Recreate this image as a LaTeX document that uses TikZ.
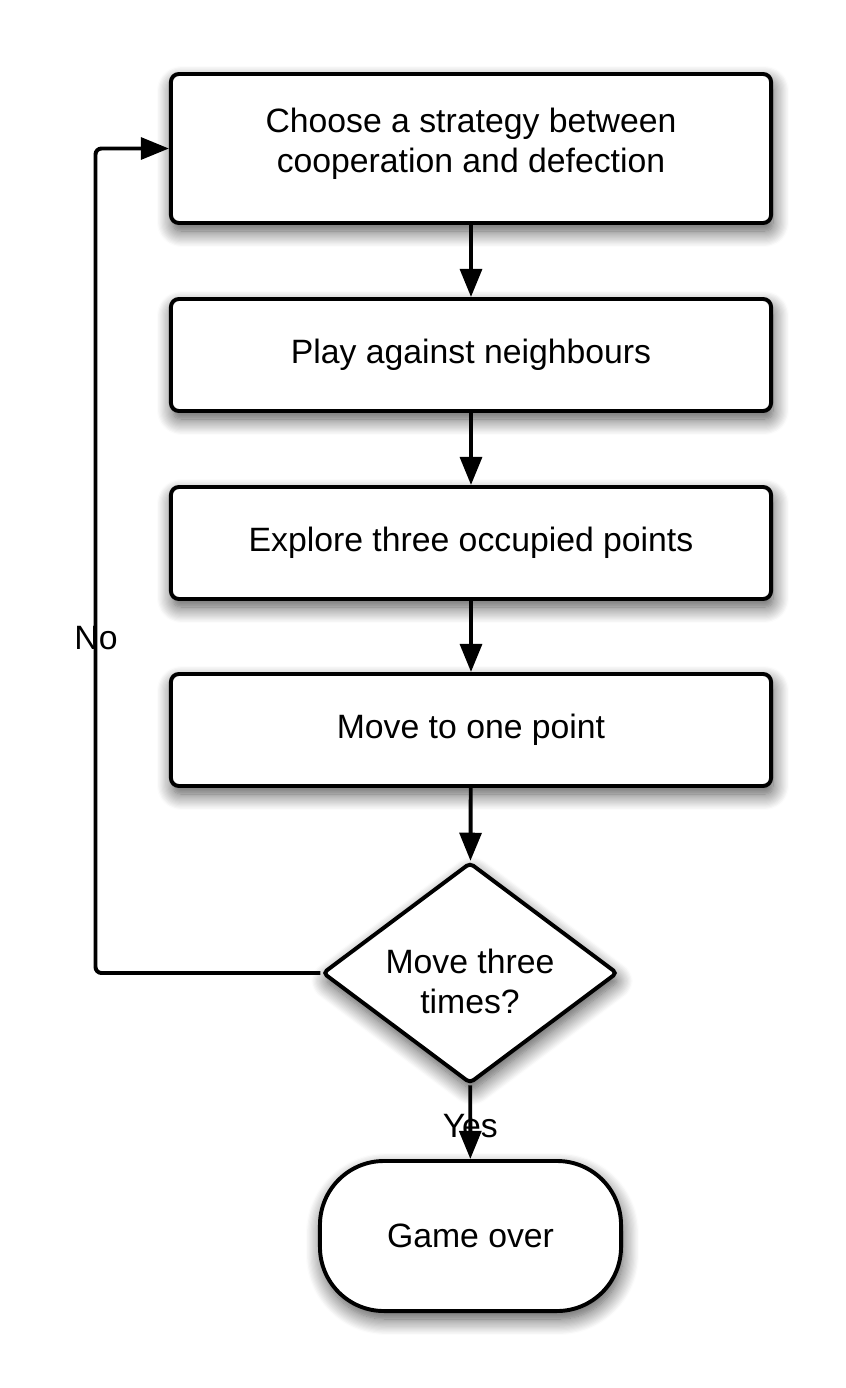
\documentclass[tikz,border=0pt]{standalone}
\usepackage{fontspec}
\setmainfont{Liberation Sans}
\usetikzlibrary{arrows.meta, shapes.geometric, shadows.blur}

\begin{document}
\begin{tikzpicture}[
  x=0.025cm, y=-0.025cm,
  every node/.style={font=\fontsize{24}{28.5}\selectfont},
  soft/.style={blur shadow={shadow xshift=0.05cm, shadow yshift=-0.2cm, shadow opacity=70, shadow blur radius=0.4cm, shadow blur steps=14}},
  process/.style={rectangle, draw, line width=2.8pt, fill=white, rounded corners=0.2cm, minimum width=15cm, minimum height=2.8cm, align=center, soft},
  decision/.style={diamond, draw, line width=2.8pt, fill=white, rounded corners=3pt, minimum width=7.375cm, minimum height=5.525cm, aspect=1.335, inner sep=0pt, align=center, soft},
  terminal/.style={rectangle, draw, line width=2.8pt, fill=white, rounded corners=1.6cm, minimum width=7.525cm, minimum height=3.75cm, align=center, soft},
  flow/.style={-{Triangle[length=20pt, width=15.5pt]}, line width=2.8pt}
]
  \useasboundingbox (0,0) rectangle (846,1388);

  \node[process, minimum height=3.725cm] (choose) at (471,148.5) {\raisebox{0.1cm}[\height][\depth]{\begin{tabular}{@{}c@{}}Choose a strategy between\\cooperation and defection\end{tabular}}};
  \node[process] (play) at (471,355) {Play against neighbours};
  \node[process] (explore) at (471,543) {Explore three occupied points};
  \node[process] (move) at (471,730) {Move to one point};
  \node[decision] (check) at (470,973) {\raisebox{-0.32cm}[\height][\depth]{\begin{tabular}{@{}c@{}}Move three\\times?\end{tabular}}};
  \node[terminal] (over) at (470.5,1236) {Game over};

  \draw[flow] (choose) -- (play);
  \draw[flow] (play) -- (explore);
  \draw[flow] (explore) -- (move);
  \draw[flow] (move) -- (check);
  \draw[flow] (check) -- node[yshift=-0.1cm] (yes) {Yes} (over);
  \draw[flow, rounded corners=0.15cm] (check.west) -- ++(-225,0) |- (choose.west);
  \node (no) at (96,638) {No};
\end{tikzpicture}
\end{document}
